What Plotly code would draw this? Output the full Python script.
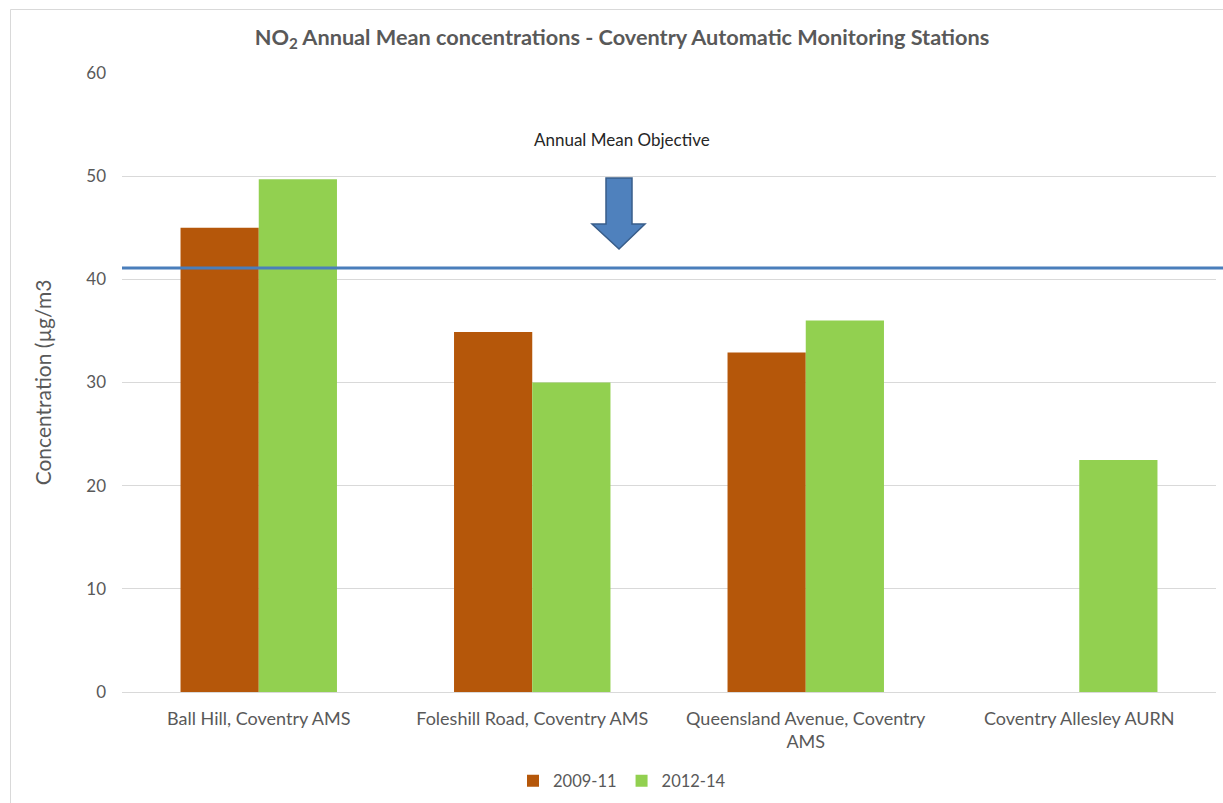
import plotly.graph_objects as go

categories = ["Ball Hill, Coventry AMS", "Foleshill Road, Coventry AMS",
              "Queensland Avenue, Coventry<br>AMS", "Coventry Allesley AURN"]
series_2009_11 = [45.0, 34.9, 32.9, None]
series_2012_14 = [49.7, 30.0, 36.0, 22.5]
objective_level = 41.1
y_ticks = [0, 10, 20, 30, 40, 50, 60]

FONT = "Lato"
GRAY = "#595959"

fig = go.Figure()
fig.add_trace(go.Bar(name="2009-11", x=categories, y=series_2009_11,
                     marker=dict(color="#b5570a", line=dict(width=0))))
fig.add_trace(go.Bar(name="2012-14", x=categories, y=series_2012_14,
                     marker=dict(color="#92d050", line=dict(width=0))))

W, H = 1223, 803
L, R, T, B = 122, 7, 73, 111
pw = W - L - R
ph = H - T - B

def px2paper_x(px):
    return (px - L) / pw

def px2paper_y(py):
    return (H - B - py) / ph

shapes = []
# outer border
shapes.append(dict(type="rect", xref="paper", yref="paper",
                   x0=px2paper_x(10.5), x1=px2paper_x(1240), y0=px2paper_y(9.5), y1=px2paper_y(830),
                   line=dict(color="#d9d9d9", width=1), fillcolor="rgba(0,0,0,0)", layer="below"))
# objective line
shapes.append(dict(type="line", xref="paper", yref="y",
                   x0=0, x1=px2paper_x(1225), y0=objective_level, y1=objective_level,
                   line=dict(color="#4a7ebb", width=3), layer="above"))
# block arrow
pts = [(606, 178), (632, 178), (632, 224), (645, 224), (619, 249), (592, 224), (606, 224)]
path = "M " + " L ".join(f"{px2paper_x(x):.5f},{px2paper_y(y):.5f}" for x, y in pts) + " Z"
shapes.append(dict(type="path", xref="paper", yref="paper", path=path,
                   fillcolor="#4f81bd", line=dict(color="#385d8a", width=1.5), layer="above"))

fig.update_layout(
    width=W, height=H,
    margin=dict(l=L, r=R, t=T, b=B, autoexpand=False),
    paper_bgcolor="white", plot_bgcolor="white",
    font=dict(family=FONT, color=GRAY, size=17),
    title=dict(text="<b>NO<sub>2</sub> Annual Mean concentrations - Coventry Automatic Monitoring Stations</b>",
               x=622 / W, xanchor="center", y=1 - 37 / H, yanchor="middle",
               font=dict(family=FONT, size=21.7, color=GRAY)),
    barmode="group", bargap=0.428, bargroupgap=0,
    showlegend=True,
    legend=dict(orientation="h", x=px2paper_x(622), xanchor="center",
                y=px2paper_y(781), yanchor="middle",
                font=dict(family=FONT, size=16.5, color=GRAY),
                itemwidth=30, traceorder="normal"),
    xaxis=dict(showgrid=False, showline=False, ticks="", tickfont=dict(size=18, color=GRAY),
               zeroline=False, ticklabelstandoff=14, automargin=False),
    yaxis=dict(range=[0, 60], tickvals=y_ticks, showgrid=True, gridcolor="#d9d9d9", gridwidth=1,
               zeroline=True, zerolinecolor="#d9d9d9", zerolinewidth=1,
               showline=False, ticks="", ticklabelstandoff=15, automargin=False,
               tickfont=dict(size=17, color=GRAY),
               title=dict(text="Concentration (µg/m3", font=dict(size=21, color=GRAY), standoff=28)),
    shapes=shapes,
    annotations=[dict(text="Annual Mean Objective", xref="paper", yref="paper",
                      x=px2paper_x(622), y=px2paper_y(140), showarrow=False,
                      font=dict(family=FONT, size=17, color="#262626"),
                      xanchor="center", yanchor="middle")],
)

fig.write_html("out.html", config={"displayModeBar": False},
               post_script="document.body.style.margin='0';document.body.style.overflow='hidden';")
